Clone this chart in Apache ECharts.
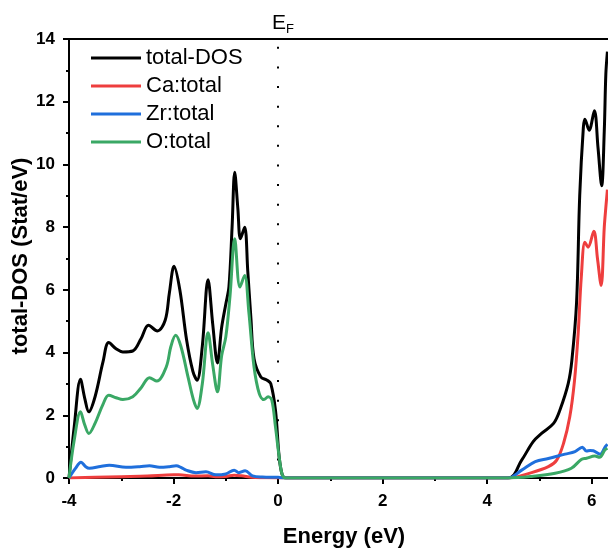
<!DOCTYPE html>
<html>
<head>
<meta charset="utf-8">
<script src="https://cdn.jsdelivr.net/npm/echarts@6/dist/echarts.min.js"></script>
<style>
  html, body { margin: 0; padding: 0; overflow: hidden; background: #fff; }
  #chart { width: 660px; height: 548px; }
</style>
</head>
<body>
<div id="chart"></div>
<script>
// Density of states, energy in eV relative to the Fermi level, [E, DOS]
const totalDOS = [
  [-4, 0], [-3.9, 1.64], [-3.78, 3.15], [-3.7, 2.55], [-3.62, 2.11], [-3.5, 2.6], [-3.35, 3.7],
  [-3.24, 4.32], [-3.1, 4.12], [-2.97, 4.02], [-2.78, 4.05], [-2.62, 4.45], [-2.48, 4.87],
  [-2.31, 4.69], [-2.16, 5.03], [-2.08, 5.9], [-1.99, 6.75], [-1.88, 6.0], [-1.75, 4.4],
  [-1.63, 3.4], [-1.55, 3.12], [-1.45, 4.2], [-1.34, 6.32], [-1.25, 4.9], [-1.16, 3.67],
  [-1.08, 4.8], [-1.0, 5.55], [-0.94, 6.1], [-0.88, 8.0], [-0.83, 9.75], [-0.77, 8.6],
  [-0.72, 7.63], [-0.64, 8.0], [-0.58, 6.6], [-0.52, 5.1], [-0.46, 3.8], [-0.33, 3.22],
  [-0.21, 3.12], [-0.14, 3.01], [-0.05, 2.16], [0.02, 0.68], [0.08, 0.1], [0.15, 0],
  [4.4, 0], [4.66, 0.57], [4.88, 1.16], [5.04, 1.42], [5.27, 1.74], [5.39, 2.16],
  [5.55, 3.01], [5.62, 3.75], [5.71, 5.6], [5.77, 9.0], [5.84, 11.18], [5.87, 11.44],
  [5.95, 11.09], [6.05, 11.71], [6.12, 10.54], [6.19, 9.32], [6.24, 11.07], [6.27, 12.88],
  [6.3, 13.6]
];
const caTotal = [
  [-4, 0], [-3.5, 0.02], [-3, 0.04], [-2.5, 0.06], [-2.0, 0.1], [-1.9, 0.1], [-1.6, 0.06],
  [-1.34, 0.07], [-1.2, 0.04], [-1.0, 0.05], [-0.84, 0.09], [-0.7, 0.07], [-0.5, 0.02],
  [-0.3, 0.01], [0.15, 0],
  [4.4, 0], [4.85, 0.17], [5.17, 0.36], [5.33, 0.57], [5.46, 1.1], [5.58, 1.95],
  [5.67, 3.1], [5.74, 4.6], [5.8, 6.4], [5.87, 7.52], [5.93, 7.36], [6.04, 7.87],
  [6.11, 7.0], [6.18, 6.14], [6.24, 8.0], [6.27, 8.63], [6.3, 9.2]
];
const zrTotal = [
  [-4, 0], [-3.88, 0.3], [-3.77, 0.5], [-3.68, 0.36], [-3.61, 0.31], [-3.4, 0.37],
  [-3.23, 0.41], [-2.91, 0.34], [-2.65, 0.36], [-2.46, 0.39], [-2.27, 0.34], [-2.08, 0.36],
  [-1.95, 0.39], [-1.85, 0.33], [-1.76, 0.25], [-1.57, 0.17], [-1.38, 0.2], [-1.19, 0.1],
  [-1.0, 0.13], [-0.84, 0.25], [-0.75, 0.17], [-0.63, 0.23], [-0.49, 0.07], [-0.3, 0.03],
  [0.0, 0.02], [0.15, 0],
  [4.4, 0], [4.66, 0.25], [4.92, 0.52], [5.17, 0.62], [5.49, 0.76], [5.68, 0.84],
  [5.82, 0.98], [5.9, 0.86], [5.97, 0.88], [6.03, 0.87], [6.16, 0.76], [6.26, 1.0], [6.3, 1.08]
];
const oTotal = [
  [-4, 0], [-3.9, 1.21], [-3.78, 2.11], [-3.7, 1.7], [-3.62, 1.42], [-3.5, 1.75],
  [-3.35, 2.35], [-3.24, 2.64], [-3.1, 2.56], [-2.97, 2.5], [-2.78, 2.59], [-2.62, 2.88],
  [-2.46, 3.2], [-2.32, 3.09], [-2.14, 3.54], [-2.05, 4.2], [-1.96, 4.55], [-1.86, 4.2],
  [-1.72, 3.2], [-1.62, 2.5], [-1.55, 2.22], [-1.45, 3.0], [-1.34, 4.63], [-1.25, 3.6],
  [-1.16, 2.75], [-1.08, 3.9], [-1.0, 4.5], [-0.92, 5.8], [-0.83, 7.63], [-0.73, 6.09],
  [-0.64, 6.46], [-0.56, 5.3], [-0.46, 3.54], [-0.36, 2.69], [-0.27, 2.5], [-0.19, 2.59],
  [-0.12, 2.48], [-0.05, 1.63], [0.02, 0.68], [0.08, 0.1], [0.15, 0],
  [4.4, 0], [4.85, 0.05], [5.3, 0.15], [5.61, 0.31], [5.8, 0.59], [5.9, 0.63],
  [6.06, 0.7], [6.15, 0.66], [6.25, 0.89], [6.3, 0.95]
];

const seriesNames = ['total-DOS', 'Ca:total', 'Zr:total', 'O:total'];
const seriesColors = ['#000000', '#ee3e3e', '#1f6fdc', '#3aa865'];
const seriesData = [totalDOS, caTotal, zrTotal, oTotal];

const xTicks = { min: -4, max: 7, interval: 2 };
const yTicks = { min: 0, max: 14, interval: 2 };

const FONT = '"Liberation Sans", Arial, sans-serif';

const chart = echarts.init(document.getElementById('chart'), null, { renderer: 'canvas' });

const series = seriesData.map((d, i) => ({
  name: seriesNames[i],
  type: 'line',
  data: d,
  smooth: 0.35,
  showSymbol: false,
  clip: true,
  lineStyle: { color: seriesColors[i], width: 3 },
  itemStyle: { color: seriesColors[i] },
  z: 3 + i
}));

// Fermi level marker (dotted vertical line at E = 0)
series.push({
  name: 'EF',
  type: 'line',
  data: [],
  silent: true,
  markLine: {
    silent: true,
    symbol: 'none',
    label: { show: false },
    lineStyle: { color: '#000', width: 2, type: [2, 17.6], cap: 'butt' },
    data: [[{ coord: [0, 13.75] }, { coord: [0, 0] }]]
  }
});

const axisCommon = {
  splitLine: { show: false },
  axisLine: { onZero: false, lineStyle: { color: '#000', width: 2 } },
  axisTick: { inside: false, length: 6, lineStyle: { width: 2, color: '#000' } },
  minorTick: { show: true, splitNumber: 2, length: 3, lineStyle: { width: 2, color: '#000' } }
};

chart.setOption({
  animation: false,
  backgroundColor: '#fff',
  grid: {
    left: 69, top: 39, width: 575, height: 439,
    show: true, borderColor: '#000', borderWidth: 2
  },
  legend: {
    data: seriesNames,
    orient: 'vertical',
    left: 86, top: 39,
    icon: 'rect',
    itemWidth: 50, itemHeight: 3,
    itemGap: 0,
    textStyle: { fontFamily: FONT, fontSize: 22, color: '#000', lineHeight: 28 }
  },
  xAxis: Object.assign({
    type: 'value',
    min: xTicks.min, max: xTicks.max, interval: xTicks.interval,
    axisLabel: {
      margin: 15, color: '#000', fontFamily: FONT, fontSize: 17, fontWeight: 'bold',
      showMaxLabel: false
    }
  }, axisCommon),
  yAxis: Object.assign({
    type: 'value',
    min: yTicks.min, max: yTicks.max, interval: yTicks.interval,
    axisLabel: { margin: 14, color: '#000', fontFamily: FONT, fontSize: 17, fontWeight: 'bold' }
  }, axisCommon),
  graphic: [
    {
      type: 'text', x: 344, y: 537,
      style: {
        text: 'Energy (eV)', fill: '#000',
        font: 'bold 22px ' + FONT,
        textAlign: 'center', textVerticalAlign: 'middle', verticalAlign: 'middle'
      }
    },
    {
      type: 'text', x: 21, y: 256, rotation: Math.PI / 2,
      style: {
        text: 'total-DOS (Stat/eV)', fill: '#000',
        font: 'bold 22px ' + FONT,
        textAlign: 'center', textVerticalAlign: 'middle', verticalAlign: 'middle'
      }
    },
    {
      type: 'text', x: 272, y: 12,
      style: {
        text: '{e|E}{f|F}',
        rich: {
          e: { fontFamily: FONT, fontSize: 21, fill: '#000', color: '#000', lineHeight: 22 },
          f: { fontFamily: FONT, fontSize: 13, fill: '#000', color: '#000', padding: [12, 0, 0, 0], lineHeight: 22 }
        }
      }
    }
  ],
  series: series
});
</script>
</body>
</html>
